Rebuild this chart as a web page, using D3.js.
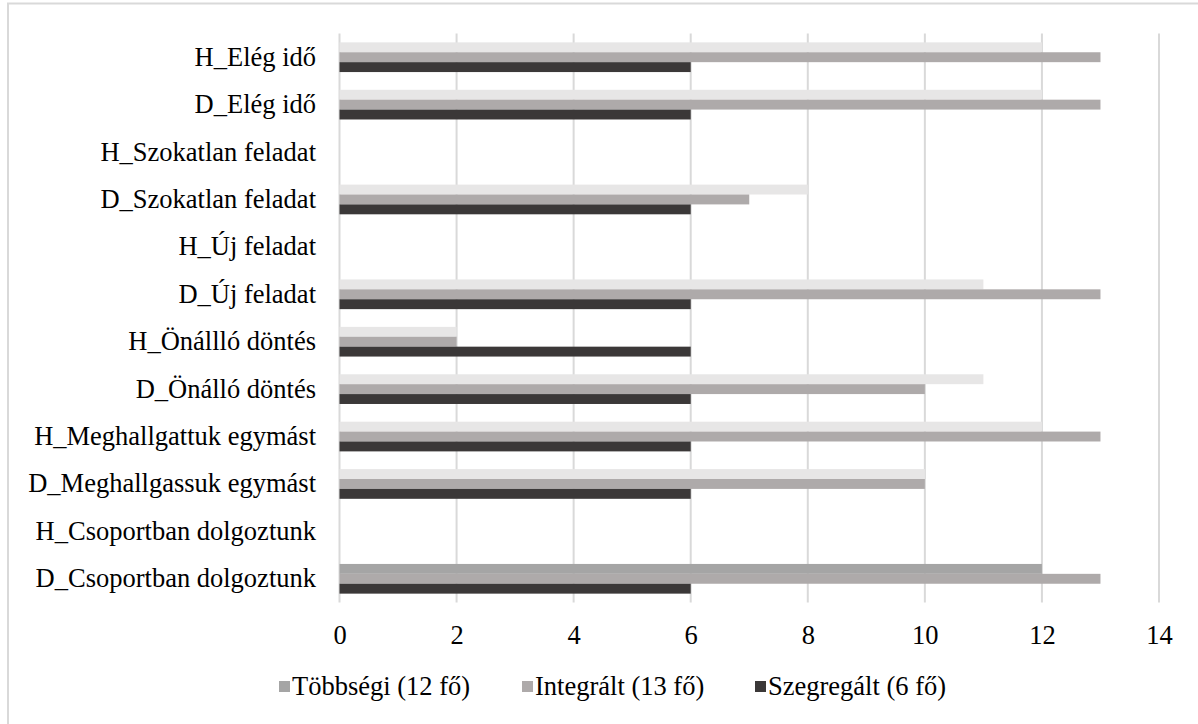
<!DOCTYPE html>
<html>
<head>
<meta charset="utf-8">
<script src="https://cdn.jsdelivr.net/npm/d3@7"></script>
<style>
  body { margin: 0; background: #fff; }
  svg { display: block; }
</style>
</head>
<body>
<svg id="chart" width="1198" height="724"></svg>
<script>
// Categories, top to bottom
const categories = [
  "H_Elég idő",
  "D_Elég idő",
  "H_Szokatlan feladat",
  "D_Szokatlan feladat",
  "H_Új feladat",
  "D_Új feladat",
  "H_Önállló döntés",
  "D_Önálló döntés",
  "H_Meghallgattuk egymást",
  "D_Meghallgassuk egymást",
  "H_Csoportban dolgoztunk",
  "D_Csoportban dolgoztunk"
];

const seriesNames = ["Többségi (12 fő)", "Integrált (13 fő)", "Szegregált (6 fő)"];
const tobbsegi   = [12, 12, 0, 8, 0, 11, 2, 11, 12, 10, 0, 12];
const integralt  = [13, 13, 0, 7, 0, 13, 2, 10, 13, 10, 0, 13];
const szegregalt = [6, 6, 0, 6, 0, 6, 6, 6, 6, 6, 0, 6];
const xTicks = [0, 2, 4, 6, 8, 10, 12, 14];

// Series colours; the first series has lighter per-bar fills except the last bar
const seriesColors = ["#a5a5a5", "#aeaaaa", "#3b3838"];
const tobbsegiFills = ["#e7e6e6", "#e7e6e6", "#e7e6e6", "#e7e6e6", "#e7e6e6", "#e7e6e6",
                       "#e7e6e6", "#e7e6e6", "#e7e6e6", "#e7e6e6", "#e7e6e6", "#a5a5a5"];

const seriesValues = [tobbsegi, integralt, szegregalt];

const FONT = "'Liberation Serif', 'Times New Roman', serif";
const FS = 26.5;

const svg = d3.select("#chart").attr("font-family", FONT);

// Outer frame
svg.append("rect")
  .attr("x", 8).attr("y", 3.5)
  .attr("width", 1220).attr("height", 740)
  .attr("fill", "none").attr("stroke", "#d9d9d9").attr("stroke-width", 2);

const plot = { left: 339.5, right: 1159, top: 33.5, bottom: 602.5 };

const x = d3.scaleLinear().domain([0, 14]).range([plot.left, plot.right]);
const y = d3.scaleBand().domain(categories).range([plot.top, plot.bottom]);
const barH = 9.9;
const inner = d3.scaleBand().domain(d3.range(3))
  .range([y.bandwidth() / 2 - barH * 1.5, y.bandwidth() / 2 + barH * 1.5]);

// Gridlines
svg.append("g")
  .selectAll("line")
  .data(xTicks)
  .join("line")
  .attr("x1", d => x(d)).attr("x2", d => x(d))
  .attr("y1", plot.top).attr("y2", plot.bottom)
  .attr("stroke", "#d9d9d9").attr("stroke-width", 2);

// Bars
const groups = svg.append("g")
  .selectAll("g")
  .data(categories)
  .join("g")
  .attr("transform", c => `translate(0,${y(c)})`);

groups.selectAll("rect")
  .data((c, i) => seriesValues.map((vals, s) => ({ s, i, v: vals[i] })))
  .join("rect")
  .filter(d => d.v > 0)
  .attr("x", x(0))
  .attr("y", d => inner(d.s))
  .attr("width", d => x(d.v) - x(0))
  .attr("height", inner.bandwidth())
  .attr("fill", d => d.s === 0 ? tobbsegiFills[d.i] : seriesColors[d.s]);

// Category labels
svg.append("g")
  .selectAll("text")
  .data(categories)
  .join("text")
  .attr("x", 316)
  .attr("y", c => y(c) + y.bandwidth() / 2 + 8.5)
  .attr("text-anchor", "end")
  .attr("font-family", FONT)
  .attr("font-size", FS)
  .attr("fill", "#000")
  .text(c => c);

// X axis tick labels
const xAxis = d3.axisBottom(x).tickValues(xTicks).tickSize(0).tickPadding(0);
const gx = svg.append("g").attr("transform", `translate(0,${plot.bottom})`).call(xAxis);
gx.attr("font-family", FONT);
gx.select(".domain").remove();
gx.selectAll("text")
  .attr("y", 41.5)
  .attr("dy", null)
  .attr("font-size", FS)
  .attr("font-family", FONT)
  .attr("fill", "#000");

// Legend
const legendX = [279, 522, 755];
const legend = svg.append("g").selectAll("g")
  .data(seriesNames)
  .join("g")
  .attr("transform", (d, i) => `translate(${legendX[i]},695)`);
legend.append("rect")
  .attr("x", 0).attr("y", -14)
  .attr("width", 11).attr("height", 11)
  .attr("fill", (d, i) => seriesColors[i]);
legend.append("text")
  .attr("x", 13)
  .attr("y", 0)
  .attr("font-family", FONT)
  .attr("font-size", FS)
  .attr("fill", "#000")
  .text(d => d);
</script>
</body>
</html>
